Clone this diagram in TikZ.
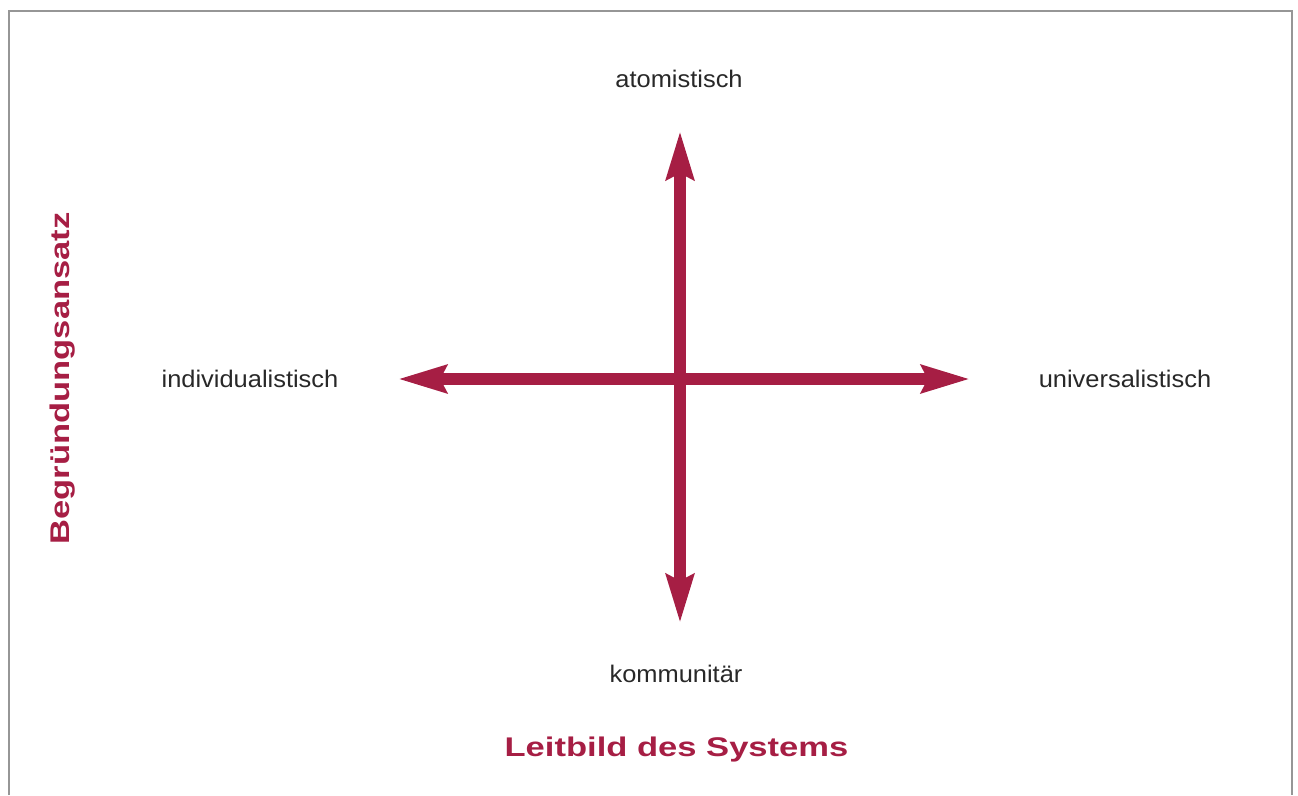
\documentclass[tikz,border=0pt]{standalone}
\usepackage{fontspec}
\setmainfont{Liberation Sans}
\usetikzlibrary{arrows.meta}
\definecolor{crimson}{RGB}{166,30,68}
\definecolor{framegray}{RGB}{150,150,150}
\definecolor{labeltext}{RGB}{40,40,40}
\begin{document}
\begin{tikzpicture}[x=1pt,y=-1pt,
  axisarrow/.style={draw=crimson, line width=11.5pt,
    {Stealth[length=48pt,width=27pt,inset=6pt,fill=crimson]}-{Stealth[length=48pt,width=27pt,inset=6pt,fill=crimson]}},
  pole/.style={anchor=base, inner sep=0pt, text=labeltext, font=\fontsize{24}{28}\selectfont},
  axistitle/.style={anchor=base, inner sep=0pt, text=crimson, font=\bfseries\fontsize{27}{32}\selectfont}]
  \useasboundingbox (0,0) rectangle (1298,795);
  % open frame
  \draw[framegray, line width=2pt] (9,795) -- (9,11) -- (1292,11) -- (1292,795);
  % arrow end points
  \coordinate (top) at (680,131);
  \coordinate (bottom) at (680,623);
  \coordinate (left) at (398,379);
  \coordinate (right) at (970,379);
  \draw[axisarrow] (bottom) -- (top);
  \draw[axisarrow] (left) -- (right);
  % pole labels
  \node[pole] (atom) at (679,87) {\scalebox{1.06}[1]{atomistisch}};
  \node[pole] (komm) at (676,682) {\scalebox{1.06}[1]{kommunitär}};
  \node[pole] (indiv) at (250,387) {\scalebox{1.06}[1]{individualistisch}};
  \node[pole] (univ) at (1125,387) {\scalebox{1.06}[1]{universalistisch}};
  % axis titles
  \node[axistitle] (leit) at (676.5,756) {\scalebox{1.28}[1]{Leitbild des Systems}};
  \node[axistitle, rotate=90] (begr) at (69,378.5) {\scalebox{1.28}[1]{Begründungsansatz}};
\end{tikzpicture}
\end{document}
